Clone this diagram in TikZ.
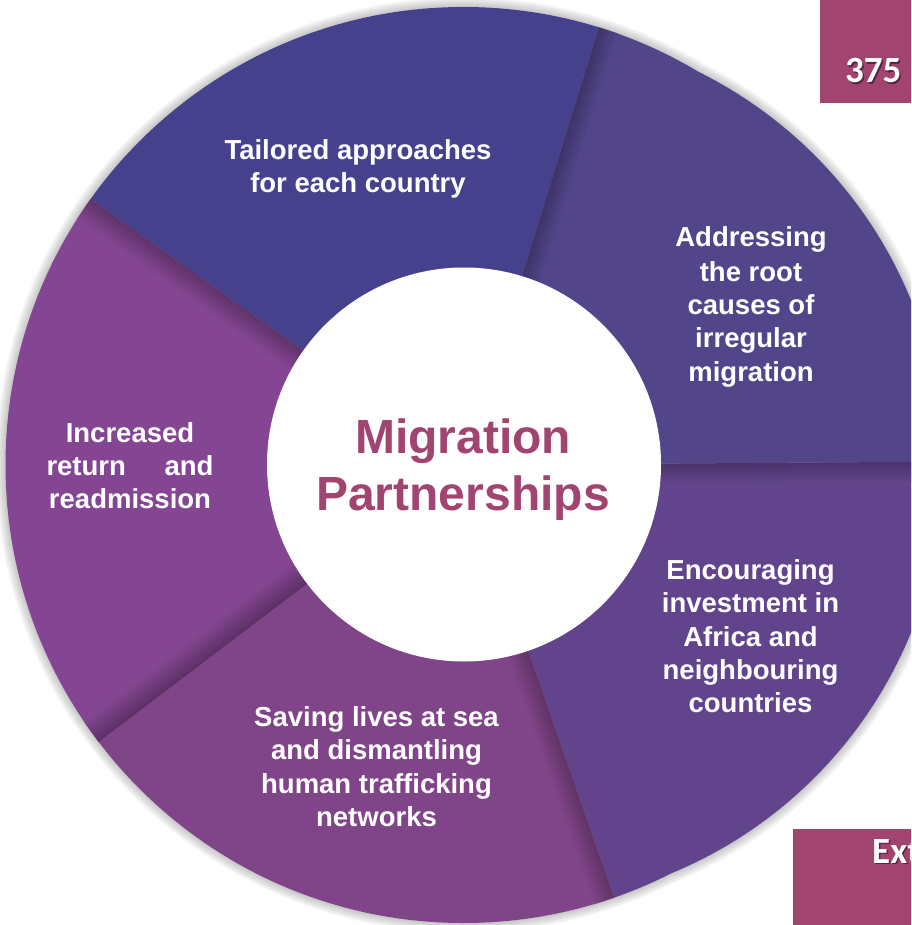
\documentclass[tikz,border=0pt]{standalone}
\usepackage{fontspec}
\setmainfont{Liberation Sans}
\newfontfamily\calfont{Carlito}
\definecolor{cTail}{HTML}{45418D}
\definecolor{cAddr}{HTML}{52458A}
\definecolor{cEnc}{HTML}{62448C}
\definecolor{cSav}{HTML}{804488}
\definecolor{cInc}{HTML}{844692}
\definecolor{cPink}{HTML}{A14470}
\begin{document}
\begin{tikzpicture}[x=1pt,y=1pt,
  segtext/.style={text=white, font=\bfseries\fontsize{27.5}{33}\selectfont, anchor=base, inner sep=0pt},
  titletext/.style={text=cPink, font=\bfseries\fontsize{48}{57}\selectfont, anchor=base, inner sep=0pt},
  tabtext/.style={font=\calfont\bfseries\fontsize{37}{40}\selectfont, anchor=base west, inner sep=0pt},
  tabbox/.style={fill=cPink},
]
\useasboundingbox (0,0) rectangle (911,-925);
\clip (0,0) rectangle (911,-925);
\coordinate (C) at (463.5,-465);
\coordinate (C2) at (503.5,-466.4);
\coordinate (Ci) at (464,-464.5);

% soft outer shadow
\foreach \k in {1,...,10} {
  \fill[black, opacity=0.022] (C) circle ({458+\k}) (C2) circle ({440+\k});
}

% segments
\begin{scope}
  \clip (C) circle (458) (C2) circle (440);
  \fill[cTail] (C) -- ++(72.8:700) arc[start angle=72.8, end angle=144.5, radius=700] -- cycle;
  \fill[cAddr] (C) -- ++(0.4:700) arc[start angle=0.4, end angle=72.8, radius=700] -- cycle;
  \fill[cEnc] (C) -- ++(-70.8:700) arc[start angle=-70.8, end angle=0.4, radius=700] -- cycle;
  \fill[cSav] (C) -- ++(-142.8:700) arc[start angle=-142.8, end angle=-70.8, radius=700] -- cycle;
  \fill[cInc] (C) -- ++(144.5:700) arc[start angle=144.5, end angle=217.2, radius=700] -- cycle;
  % fold shadows along the boundaries
  \begin{scope}[transform canvas={rotate around={144.5:(C)}}]
    \shade[bottom color=cInc!72!black, top color=cInc] (C) rectangle ++(700,24);
  \end{scope}
  \begin{scope}[transform canvas={rotate around={72.8:(C)}}]
    \shade[top color=cAddr!75!black, bottom color=cAddr] (C) rectangle ++(700,-20);
  \end{scope}
  \begin{scope}[transform canvas={rotate around={0.4:(C)}}]
    \shade[top color=cEnc!75!black, bottom color=cEnc] (C) rectangle ++(700,-20);
  \end{scope}
  \begin{scope}[transform canvas={rotate around={-70.8:(C)}}]
    \shade[top color=cSav!75!black, bottom color=cSav] (C) rectangle ++(700,-22);
  \end{scope}
  \begin{scope}[transform canvas={rotate around={217.2:(C)}}]
    \shade[top color=cInc!68!black, bottom color=cInc] (C) rectangle ++(700,-26);
  \end{scope}
\end{scope}

% central disc
\fill[white] (Ci) circle (197);
\node[titletext] (t1) at (463,-453) {Migration};
\node[titletext] (t2) at (463,-510) {Partnerships};

% segment texts
\node[segtext] (a1) at (358,-160) {Tailored approaches};
\node[segtext] (a2) at (358,-193) {for each country};

\node[segtext] (b1) at (751,-247) {Addressing};
\node[segtext] (b2) at (751,-281) {the root};
\node[segtext] (b3) at (751,-314) {causes of};
\node[segtext] (b4) at (751,-347) {irregular};
\node[segtext] (b5) at (751,-381) {migration};

\node[segtext] (c1) at (750.5,-579) {Encouraging};
\node[segtext] (c2) at (750.5,-612) {investment in};
\node[segtext] (c3) at (750.5,-646) {Africa and};
\node[segtext] (c4) at (750.5,-679) {neighbouring};
\node[segtext] (c5) at (750.5,-712) {countries};

\node[segtext] (d1) at (376.5,-726) {Saving lives at sea};
\node[segtext] (d2) at (376.5,-759) {and dismantling};
\node[segtext] (d3) at (376.5,-793) {human trafficking};
\node[segtext] (d4) at (376.5,-826) {networks};

\node[segtext] (e1) at (130,-442) {Increased};
\node[segtext] (e2) at (130,-475) {\makebox[167pt]{return\hfill and}};
\node[segtext] (e3) at (130,-508) {readmission};

% side tabs (their texts run on beyond the picture's edge, as in the reference)
\fill[tabbox] (820,0) rectangle (911,-103);
\fill[tabbox] (793,-829) rectangle (911,-925);
\node[tabtext, text=black, opacity=0.45] (s1) at (846.5,-84.5) {375};
\node[tabtext, text=white] (n1) at (845,-83) {375};
\node[tabtext, text=black, opacity=0.45] (s2) at (873.5,-864.5) {Ext};
\node[tabtext, text=white] (n2) at (872,-863) {Ext};
\end{tikzpicture}
\end{document}
